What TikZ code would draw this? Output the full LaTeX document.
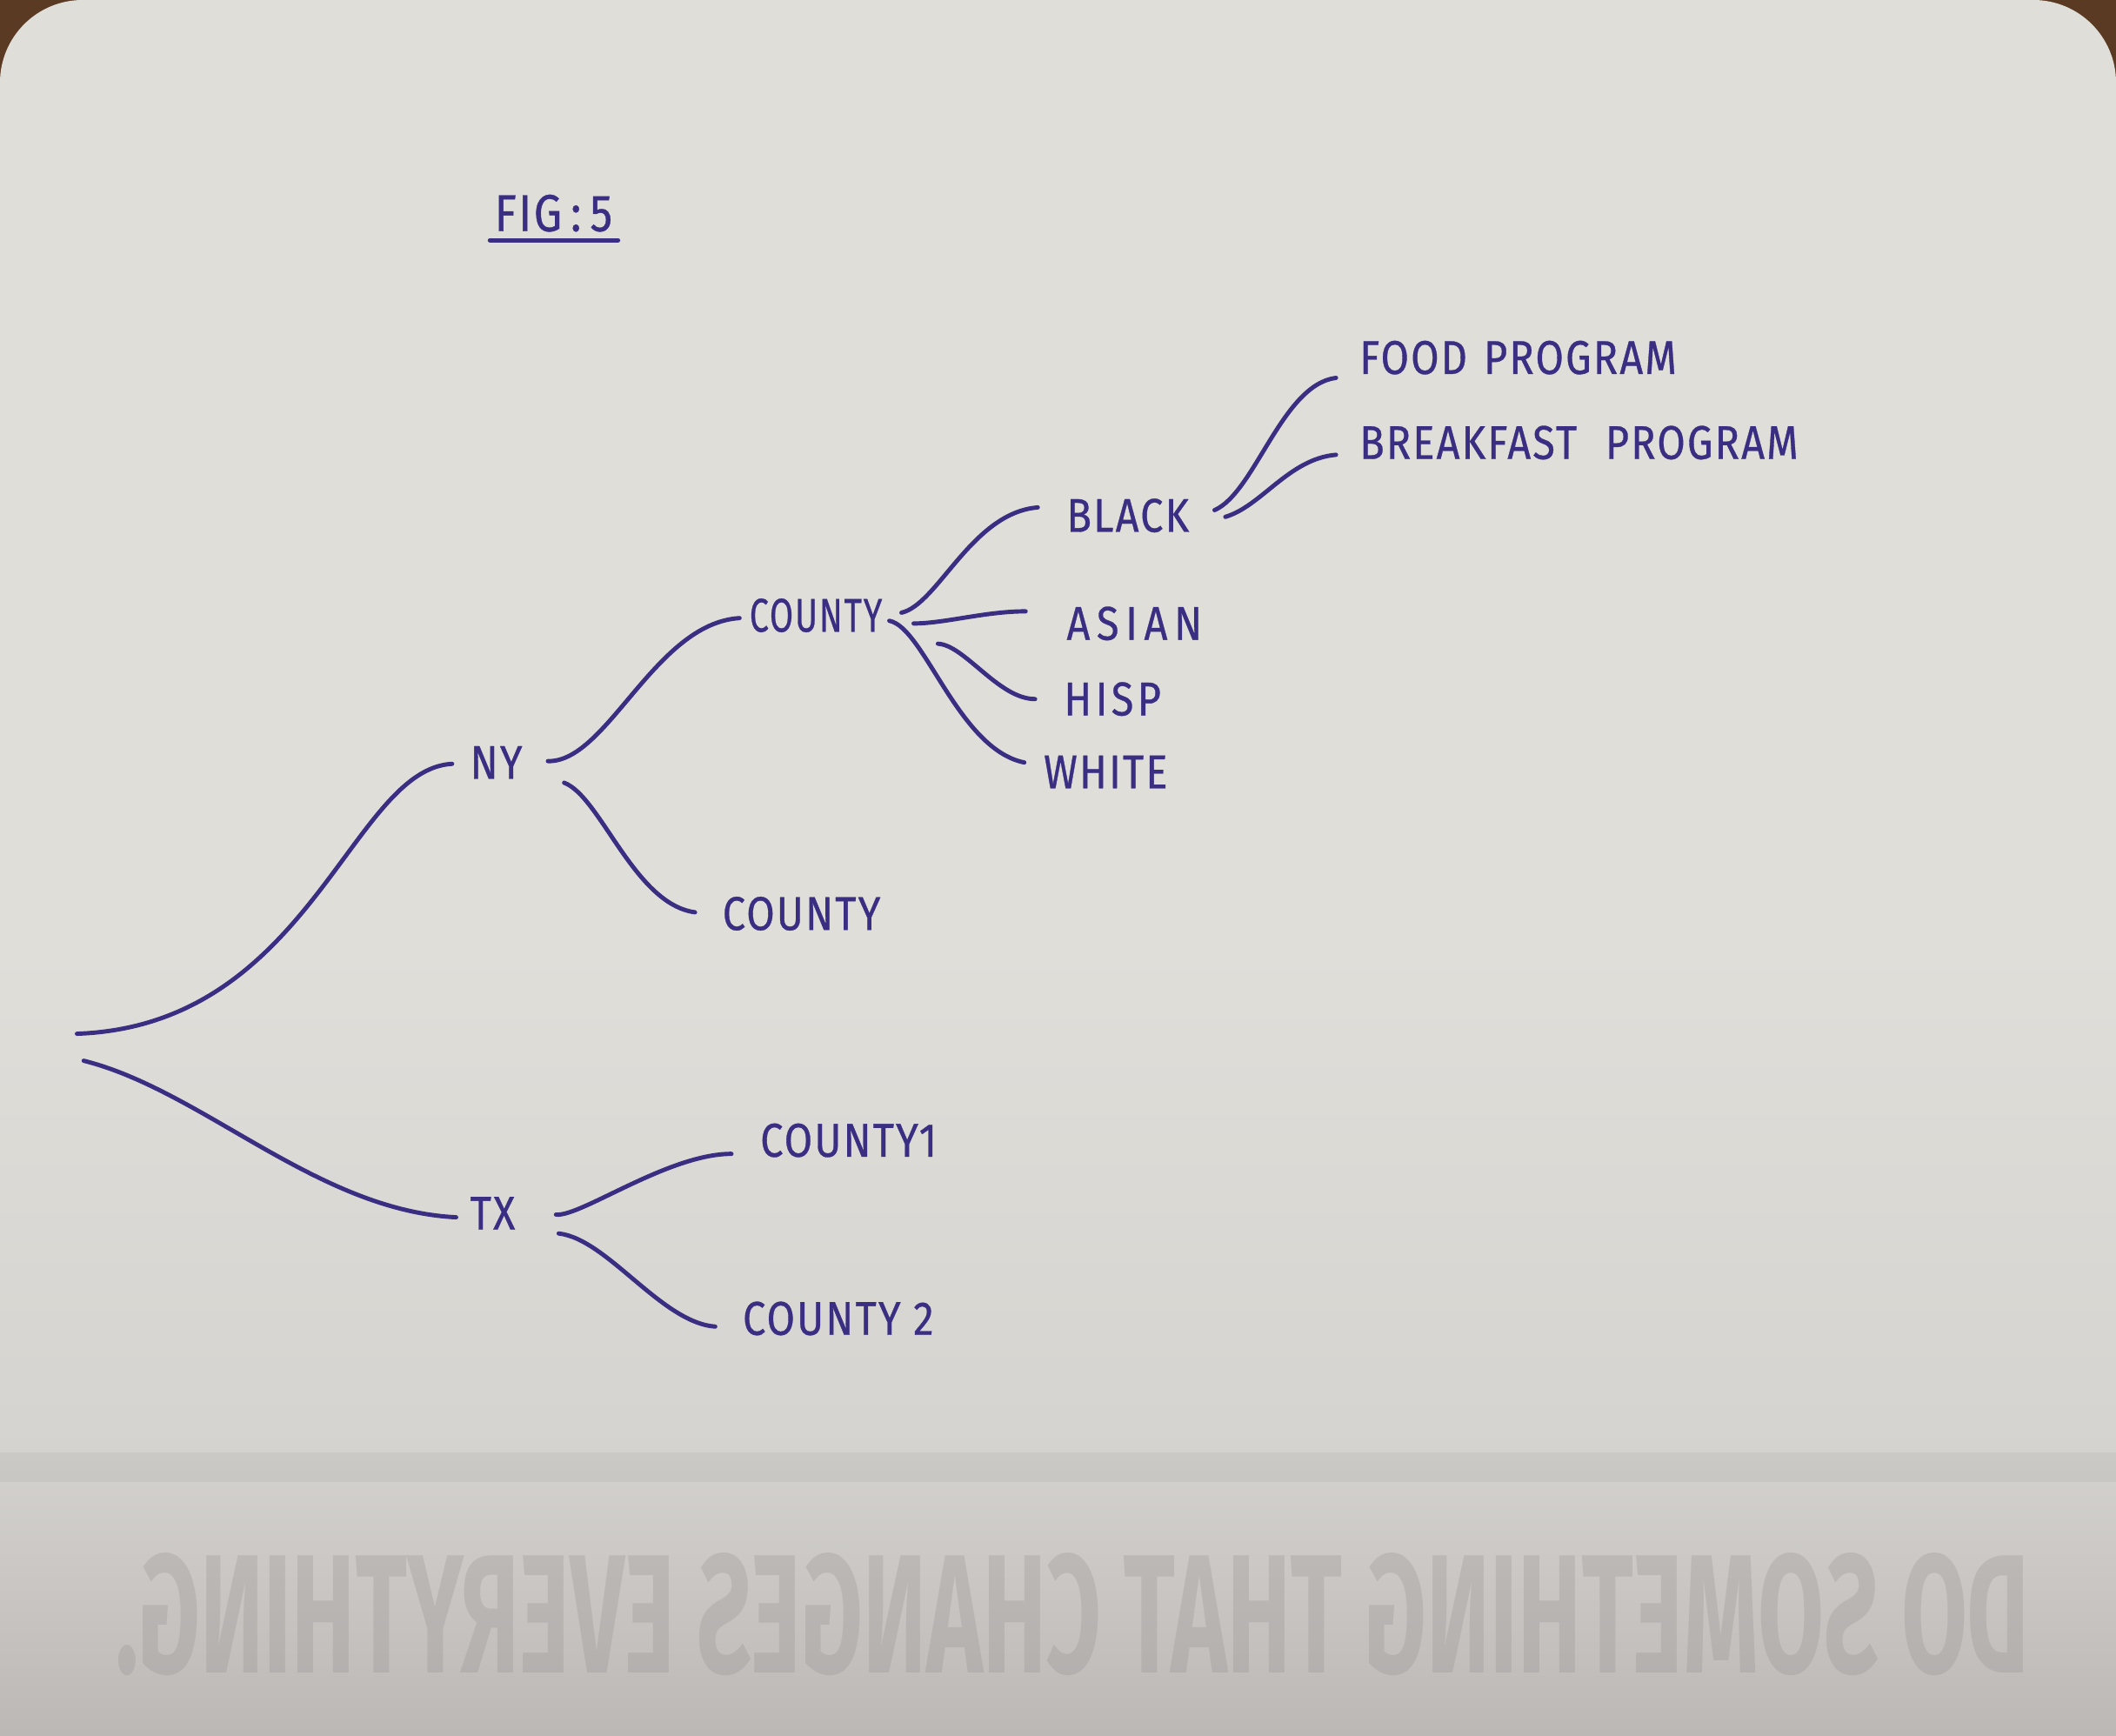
\documentclass[tikz,border=0pt]{standalone}
\usepackage{fontspec}
\setmainfont{Fira Sans}[FakeStretch=0.86, LetterSpace=4, FakeBold=0.6]
\newfontfamily\slogfont{Fira Sans}[FakeStretch=0.6]
\usetikzlibrary{calc}
\definecolor{ink}{HTML}{3A2E82}
\definecolor{paper}{HTML}{DFDED9}
\definecolor{papermid}{HTML}{D6D4D0}
\definecolor{paperlow}{HTML}{BCB8B6}
\definecolor{bleed}{HTML}{8F8B8A}
\definecolor{tablewood}{HTML}{5A3A22}
\begin{document}
\begin{tikzpicture}[x=0.015517cm,y=-0.015517cm,
  lbl/.style={text=ink, font=\fontsize{15.5}{18}\selectfont, inner sep=0pt, anchor=west},
  branch/.style={draw=ink, line width=1.4pt, line cap=round}]
\useasboundingbox (0,0) rectangle (1568,1286);
% background: table and card
\fill[tablewood] (0,0) rectangle (1568,1286);
\fill[paper, rounded corners=0.95cm] (0,0) rectangle (1568,1500);
\shade[top color=paper, bottom color=papermid] (0,700) rectangle (1568,1060);
\shade[top color=papermid, bottom color=paperlow] (0,1060) rectangle (1568,1286);
% show-through from the back of the card
\fill[bleed, opacity=0.12] (0,1076) rectangle (1568,1098);
\node[text=bleed, opacity=0.26, inner sep=0pt] (slogan) at (795,1196)
  {\resizebox{22.0cm}{1.38cm}{\reflectbox{\slogfont\bfseries DO SOMETHING THAT CHANGES EVERYTHING.}}};

% labels
\node[lbl, font=\fontsize{17}{20}\selectfont] (fig) at (366,158) {FIG\,:\,5};
\node[lbl] (ny)    at (348,565) {NY};
\node[lbl] (tx)    at (348,899) {TX};
\node[lbl] (ca)    at (555,456) {\scalebox{0.84}[1]{COUNTY}};
\node[lbl] (cb)    at (535,677) {COUNTY};
\node[lbl] (black) at (790,382) {BLACK};
\node[lbl] (asian) at (790,462) {\addfontfeature{LetterSpace=14}ASIAN};
\node[lbl] (hisp)  at (788,518) {\addfontfeature{LetterSpace=8}HISP};
\node[lbl] (white) at (773,572) {WHITE};
\node[lbl] (food)  at (1007,265) {FOOD\hspace{0.35em}PROGRAM};
\node[lbl] (bfast) at (1007,328) {BREAKFAST\hspace{0.6em}PROGRAM};
\node[lbl] (cone)  at (563,845) {COUNTY1};
\node[lbl] (ctwo)  at (550,977) {COUNTY 2};

% underline of the title
\draw[branch] ($(fig.west)+(-3,20)$) -- ($(fig.west)+(92,20)$);

% root
\coordinate (rootA) at (57,766);
\coordinate (rootB) at (62,786);
\draw[branch] (rootA) .. controls (230,760) and (260,570) .. ($(ny.west)+(-13,1)$);
\draw[branch] (rootB) .. controls (150,808) and (235,897) .. ($(tx.west)+(-10,3)$);

% NY
\draw[branch] ($(ny.west)+(58,-1)$) .. controls (450,565) and (485,462) .. ($(ca.west)+(-7,2)$);
\draw[branch] ($(ny.west)+(70,15)$) .. controls (445,590) and (470,670) .. ($(cb.west)+(-20,-1)$);

% COUNTY fan
\draw[branch] ($(ca.west)+(113,-2)$) .. controls (695,448) and (720,380) .. ($(black.west)+(-21,-6)$);
\draw[branch] ($(ca.west)+(122,6)$) .. controls (700,462) and (730,453) .. ($(asian.west)+(-30,-9)$);
\draw[branch] ($(ca.west)+(140,21)$) .. controls (715,478) and (740,518) .. ($(hisp.west)+(-21,0)$);
\draw[branch] ($(ca.west)+(104,4)$) .. controls (685,465) and (710,555) .. ($(white.west)+(-14,-7)$);

% BLACK
\draw[branch] ($(black.west)+(110,-4)$) .. controls (930,365) and (950,285) .. ($(food.west)+(-17,15)$);
\draw[branch] ($(black.west)+(118,1)$) .. controls (935,375) and (955,340) .. ($(bfast.west)+(-17,9)$);

% TX
\draw[branch] ($(tx.west)+(64,1)$) .. controls (430,902) and (495,855) .. ($(cone.west)+(-21,10)$);
\draw[branch] ($(tx.west)+(66,15)$) .. controls (450,918) and (490,980) .. ($(ctwo.west)+(-20,6)$);
\end{tikzpicture}
\end{document}
